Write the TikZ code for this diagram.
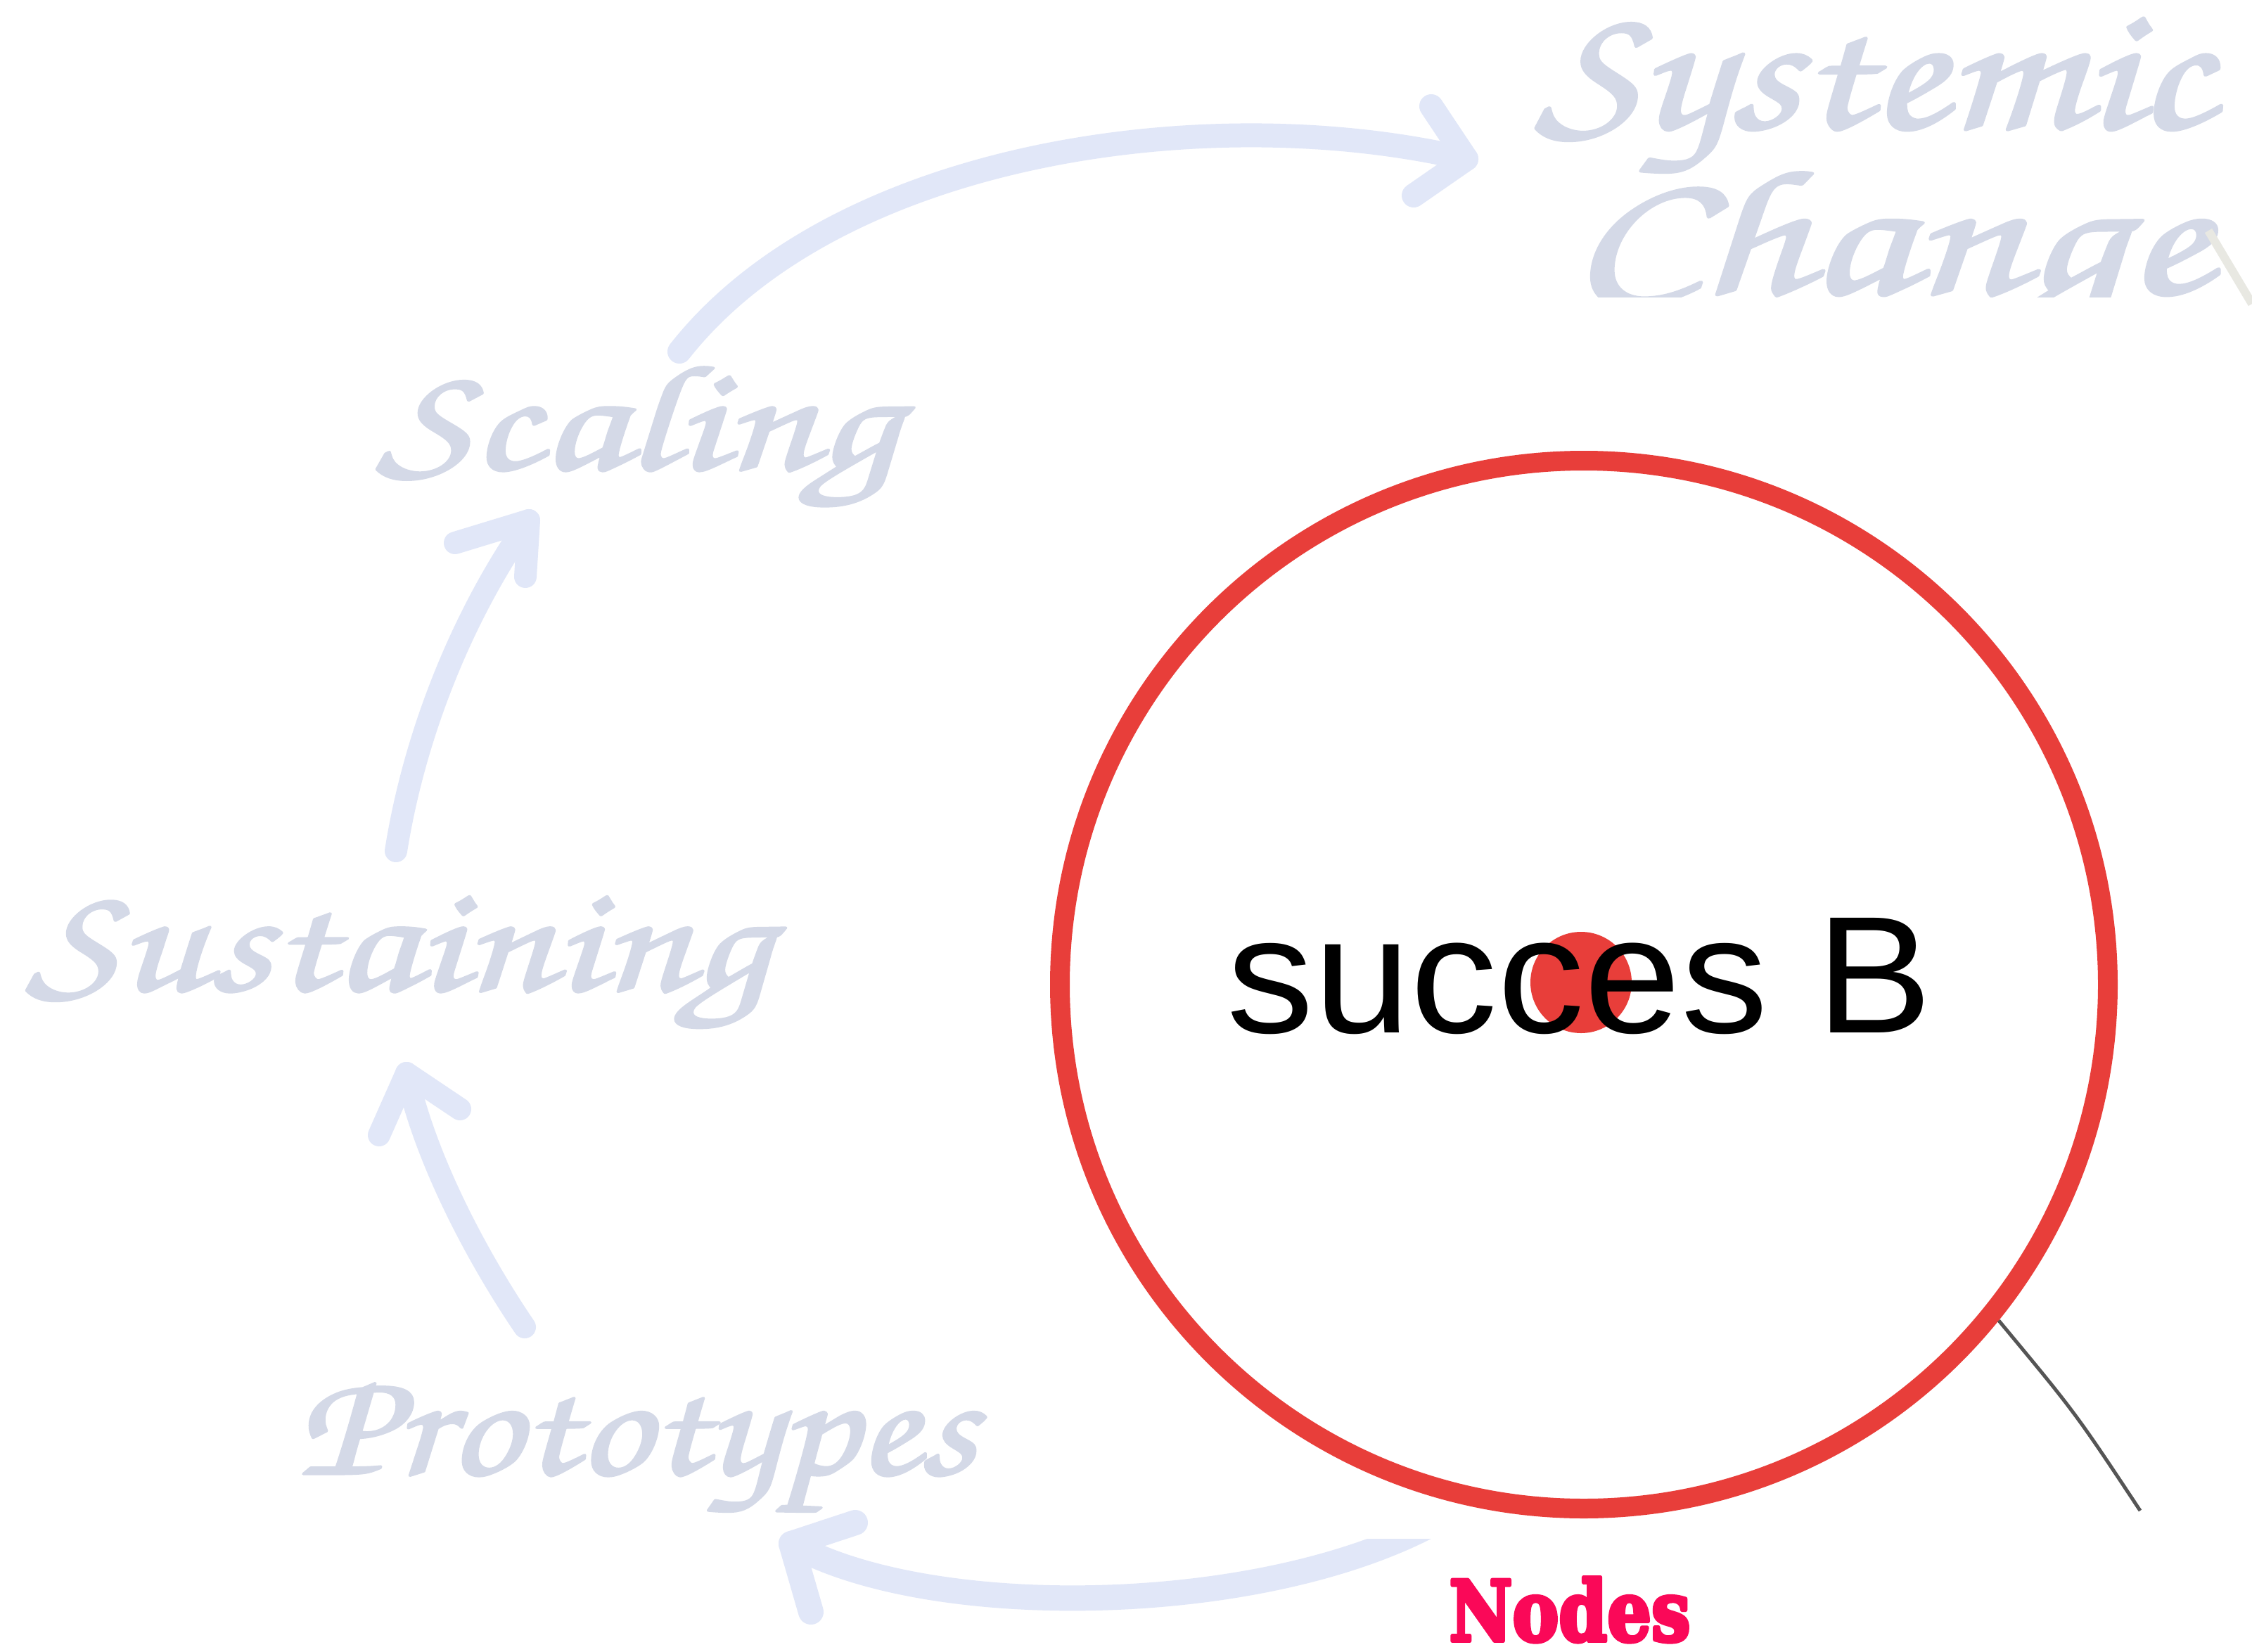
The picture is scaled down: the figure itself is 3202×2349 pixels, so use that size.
\documentclass[tikz,border=0pt]{standalone}
\usepackage[T1]{fontenc}
\usepackage{fontspec}
\setmainfont{Liberation Sans}
\newfontfamily\nodesfont{DejaVu Serif}
\usetikzlibrary{calc}
\definecolor{arrowblue}{RGB}{225,231,248}
\definecolor{scripttext}{RGB}{212,217,231}
\definecolor{ringred}{RGB}{232,62,58}
\definecolor{nodespink}{RGB}{250,8,88}
\definecolor{leadergray}{RGB}{85,85,85}
\definecolor{faintgray}{RGB}{232,232,226}
\newcommand{\heavytext}[2]{\special{pdf:literal direct 2 Tr #1 w 1 j}#2\special{pdf:literal direct 0 Tr}}
\newcommand{\scriptword}[3]{\resizebox{#1pt}{#2pt}{\fontencoding{T1}\fontfamily{pzc}\fontseries{mb}\fontshape{it}\selectfont\heavytext{0.17}{#3}}}
\tikzset{
  flow/.style={draw=arrowblue, line width=#1pt, line cap=round, line join=round},
  scriptlabel/.style={text=scripttext, inner sep=0pt, outer sep=0pt, anchor=base west},
}
\begin{document}
\begin{tikzpicture}[x=1pt, y=-1pt]
\useasboundingbox (0,0) rectangle (3202,2349);
\fill[white] (0,0) rectangle (3202,2349);

% cursive labels
\node[scriptlabel] (scaling) at (536,667) {\scriptword{739}{152}{Scaling}};
\node[scriptlabel] (sustaining) at (38,1408) {\scriptword{1055}{133}{Sustaining}};
\node[scriptlabel] (prototypes) at (422,2096) {\scriptword{964}{132}{Prototypes}};
\node[scriptlabel] (systemic) at (2184,182) {\scriptword{960}{156}{Systemic}};
\begin{scope}
\clip (2100,0) rectangle (3202,422);
\node[scriptlabel] (change) at (2233,417) {\scriptword{907}{180}{Change}};
\end{scope}

% flow arrows
\coordinate (a1s) at (746,1887); \coordinate (a1t) at (578,1526);
\draw[flow=32] (a1s) .. controls (680,1790) and (605,1650) .. (a1t);
\draw[flow=32] ($(a1t)+(-39,88)$) -- (a1t) -- ($(a1t)+(76,51)$);

\coordinate (a2s) at (563,1210); \coordinate (a2t) at (752,740);
\draw[flow=32] (a2s) .. controls (590,1040) and (660,870) .. (a2t);
\draw[flow=32] ($(a2t)+(-105,32)$) -- (a2t) -- ($(a2t)+(-5,80)$);

\coordinate (a3s) at (966,500); \coordinate (a3t) at (2085,226);
\draw[flow=34] (a3s) .. controls (1190,215) and (1720,140) .. (a3t);
\draw[flow=34] ($(a3t)+(-50,-75)$) -- (a3t) -- ($(a3t)+(-75,52)$);

\begin{scope}
\clip (0,0) -- (1900,0) -- (1900,2188) -- (3202,2188) -- (3202,2349) -- (0,2349) -- cycle;
\coordinate (a4s) at (2040,2165); \coordinate (a4t) at (1125,2195);
\draw[flow=36] (a4s) .. controls (1790,2300) and (1320,2305) .. (a4t);
\draw[flow=36] ($(a4t)+(91,-30)$) -- (a4t) -- ($(a4t)+(28,97)$);
\end{scope}

% ring node
\node[circle, fill=ringred, minimum size=144pt, inner sep=0pt] (dot) at (2248,1397) {};
\node[anchor=base, inner sep=0pt] (succ) at (2246,1468) {\resizebox{1003pt}{163pt}{succes B}};
\node[circle, draw=ringred, line width=28pt, minimum size=1490pt, inner sep=0pt] (ring) at (2252,1400) {};

% leader line
\coordinate (gEnd) at (3043,2148);
\draw[leadergray, line width=5pt] (ring.-39) .. controls (2951,2009) .. (gEnd);

% faint stroke near Change
\coordinate (w1) at (3140,328); \coordinate (w2) at (3202,432);
\draw[faintgray, line width=12pt] (w1) -- (w2);

% label
\node[anchor=base, inner sep=0pt, text=nodespink] (nodeslabel) at (2232,2333) {\resizebox{343pt}{90pt}{\nodesfont\bfseries\heavytext{0.5}{Nodes}}};
\end{tikzpicture}
\end{document}
